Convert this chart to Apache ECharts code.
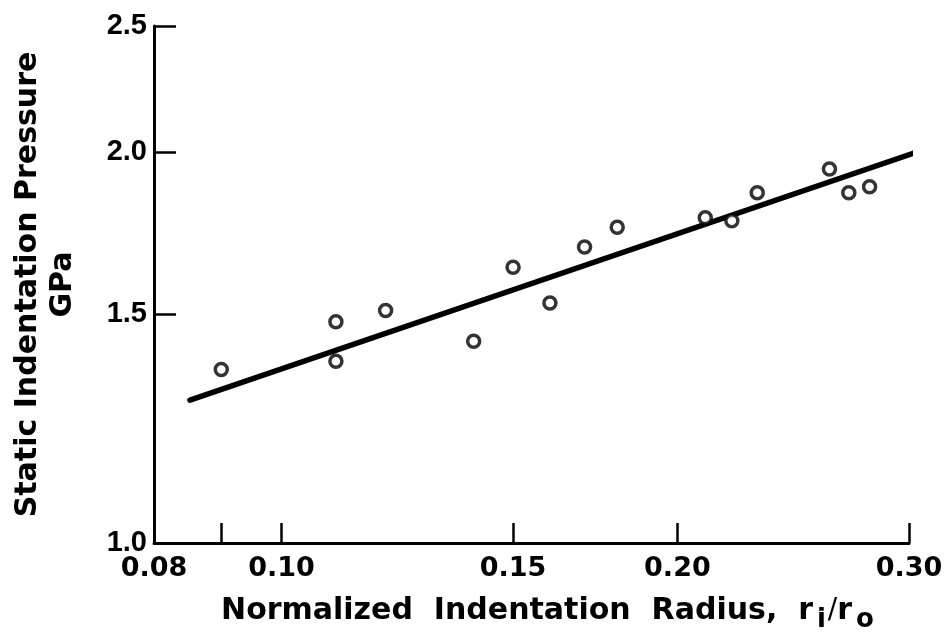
<!DOCTYPE html>
<html>
<head>
<meta charset="utf-8">
<script src="https://cdn.jsdelivr.net/npm/echarts@6/dist/echarts.min.js"></script>
<style>
  html, body { margin: 0; padding: 0; background: #fff; }
  #chart { width: 949px; height: 638px; }
</style>
</head>
<body>
<div id="chart"></div>
<script>
// Measured indentation data: normalized radius r_i/r_o vs static pressure (GPa)
const radius = [0.090, 0.110, 0.110, 0.120, 0.140, 0.150, 0.160, 0.170, 0.180, 0.210, 0.220, 0.230, 0.261, 0.270, 0.280];
const pressure = [1.36, 1.48, 1.38, 1.51, 1.43, 1.63, 1.53, 1.69, 1.75, 1.78, 1.77, 1.86, 1.94, 1.86, 1.88];

// Power-law fit line (straight on log-log axes), endpoints
const fitRadius = [0.0852, 0.3048];
const fitPressure = [1.288, 2.001];

// Axis ticks and labels
const xTicks = [0.08, 0.09, 0.10, 0.15, 0.20, 0.30];
const xLabels = [0.08, 0.10, 0.15, 0.20, 0.30];
const yTicks = [1.0, 1.5, 2.0, 2.5];

const ink = '#000';
const font = '"DejaVu Sans", sans-serif';
const narrowFont = '"Liberation Sans", sans-serif';

const chart = echarts.init(document.getElementById('chart'), null, { renderer: 'canvas' });

chart.setOption({
  backgroundColor: '#fff',
  animation: false,
  grid: { left: 154, right: 40, top: 26, bottom: 95, containLabel: false, outerBoundsMode: 'none' },
  xAxis: {
    type: 'log',
    logBase: 10,
    min: 0.08,
    max: 0.30,
    name: 'Normalized  Indentation  Radius,  r{sub|i}{sl|/}r{sub|o}',
    nameLocation: 'middle',
    nameGap: 46,
    nameTextStyle: {
      color: ink, fontFamily: font, fontWeight: 'bold', fontSize: 30, padding: [0, 0, 0, 34],
      rich: {
        sub: { color: ink, fontFamily: font, fontWeight: 'bold', fontSize: 26, padding: [18, 2, 0, 4] },
        sl: { color: ink, fontFamily: font, fontWeight: 'normal', fontSize: 28, padding: [0, 0, 0, 0] }
      }
    },
    axisLine: { show: true, onZero: false, lineStyle: { color: ink, width: 3 } },
    axisTick: { show: true, inside: true, length: 20, customValues: xTicks, lineStyle: { color: ink, width: 2.5 } },
    axisLabel: {
      show: true, customValues: xLabels, margin: 12,
      color: ink, fontFamily: font, fontWeight: 'bold', fontSize: 27,
      formatter: v => Number(v).toFixed(2)
    },
    splitLine: { show: false },
    minorTick: { show: false }
  },
  yAxis: {
    type: 'log',
    logBase: 10,
    min: 1.0,
    max: 2.5,
    name: 'Static Indentation Pressure\nGPa',
    nameLocation: 'middle',
    nameRotate: 90,
    nameGap: 73,
    nameTextStyle: { color: ink, fontFamily: font, fontWeight: 'bold', fontSize: 30, lineHeight: 35, align: 'center' },
    axisLine: { show: true, onZero: false, lineStyle: { color: ink, width: 3 } },
    axisTick: { show: true, inside: true, length: 22, customValues: yTicks, lineStyle: { color: ink, width: 2.5 } },
    axisLabel: {
      show: true, customValues: yTicks, margin: 7,
      color: ink, fontFamily: narrowFont, fontWeight: 'bold', fontSize: 29,
      formatter: v => Number(v).toFixed(1)
    },
    splitLine: { show: false },
    minorTick: { show: false }
  },
  series: [
    {
      type: 'line',
      data: fitRadius.map((x, i) => [x, fitPressure[i]]),
      showSymbol: false,
      clip: false,
      lineStyle: { color: ink, width: 5.5, cap: 'round' },
      z: 2
    },
    {
      type: 'scatter',
      data: radius.map((x, i) => [x, pressure[i]]),
      symbol: 'circle',
      symbolSize: 12,
      itemStyle: { color: '#fff', borderColor: ink, borderWidth: 3.5 },
      z: 3
    }
  ]
});
</script>
</body>
</html>
